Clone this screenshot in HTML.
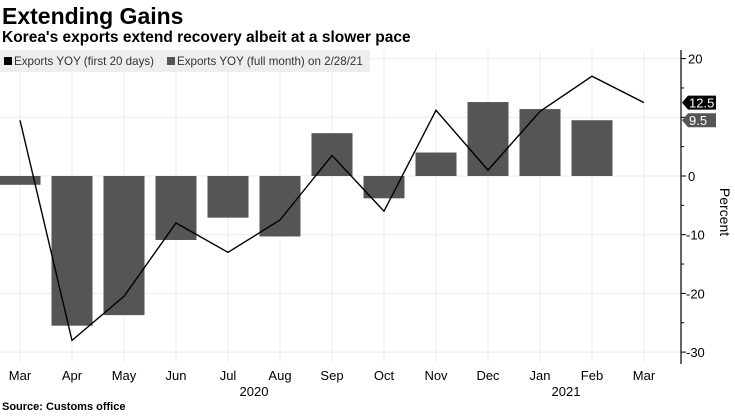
<!DOCTYPE html>
<html><head><meta charset="utf-8"><style>
body{margin:0;width:735px;height:413px;background:#fff;overflow:hidden;font-family:"Liberation Sans","DejaVu Sans",sans-serif}
</style></head><body>
<svg id="c" width="735" height="413" xmlns="http://www.w3.org/2000/svg">
<text x="2" y="24" font-size="23" font-weight="bold" fill="#000">Extending Gains</text>
<text x="2" y="42" font-size="15.5" font-weight="bold" fill="#000">Korea's exports extend recovery albeit at a slower pace</text>
<g id="grid"></g>
<g id="bars"></g>
<g id="line"></g>
<rect x="0" y="50" width="370" height="22" fill="#eeeeee"/>
<rect x="4" y="57" width="8" height="8" fill="#000"/>
<text x="14" y="65" font-size="11.6" fill="#333">Exports YOY (first 20 days)</text>
<rect x="167" y="57" width="8" height="8" fill="#555"/>
<text x="177" y="65" font-size="11.6" fill="#333">Exports YOY (full month) on 2/28/21</text>
<g id="axis"></g>
<text transform="translate(720,212) rotate(90)" font-size="14" fill="#000" text-anchor="middle">Percent</text>
<text x="2" y="410" font-size="11" font-weight="bold" fill="#000">Source: Customs office</text>
</svg>
<script>
const months=["Mar","Apr","May","Jun","Jul","Aug","Sep","Oct","Nov","Dec","Jan","Feb","Mar"];
const fullMonth=[-1.5,-25.5,-23.7,-10.9,-7.1,-10.3,7.3,-3.8,4.0,12.6,11.4,9.5];
const first20=[9.5,-28,-20.5,-8,-13,-7.5,3.5,-6,11.2,1,11,17,12.5];
const yTicks=[20,0,-10,-20,-30];
const yearLabels=[{t:"2020",i:4.5},{t:"2021",i:10.5}];
const NS="http://www.w3.org/2000/svg";
const X=i=>20+i*52;
const Y=v=>176-v*5.87;
function mk(tag,attrs,parent,text){const e=document.createElementNS(NS,tag);for(const k in attrs)e.setAttribute(k,attrs[k]);if(text!=null)e.textContent=text;document.getElementById(parent).appendChild(e);return e;}
for(let i=0;i<months.length;i++){
 const g=mk('line',{x1:X(i),x2:X(i),y1:50,y2:362,stroke:'#ececec','stroke-width':1},'grid');
 
 
}
for(let v=20;v>=-30;v-=10){
 const g=mk('line',{x1:0,x2:680,y1:Y(v),y2:Y(v),stroke:'#ececec','stroke-width':1},'grid');
 
 
}
fullMonth.forEach((v,i)=>{
 const y0=Y(0),y1=Y(v);
 const r=mk('rect',{x:X(i)-20.5,width:41,y:Math.min(y0,y1),height:Math.abs(y1-y0),fill:'#555555'},'bars');
 
 
});
const p=mk('polyline',{points:first20.map((v,i)=>X(i)+','+Y(v)).join(' '),fill:'none',stroke:'#000','stroke-width':1.4},'line');


const ax=mk('line',{x1:681,x2:681,y1:50,y2:364,stroke:'#000','stroke-width':1.2},'axis');


for(let v=20;v>=-30;v-=5){
 const t=mk('line',{x1:681,x2:v%10===0?686:684,y1:Y(v),y2:Y(v),stroke:'#000'},'axis');
 
 
}
yTicks.forEach(v=>{
 const t=mk('text',{x:v<0?686:688,y:Y(v)+5,'font-size':13,fill:'#000'},'axis',String(v));
 
 
});
months.forEach((m,i)=>{
 const t=mk('text',{x:X(i),y:380,'font-size':13,fill:'#000','text-anchor':'middle'},'axis',m);
 
 
});
yearLabels.forEach(o=>{
 const t=mk('text',{x:X(o.i),y:396,'font-size':13,fill:'#000','text-anchor':'middle'},'axis',o.t);
 
 
});
function tag(v,fill,name){
 const y=Y(v);
 const g=mk('path',{d:`M682 ${y} L688 ${y-7} L716 ${y-7} L716 ${y+7} L688 ${y+7} Z`,fill:fill},'axis');
 
 
 const t=mk('text',{x:689,y:y+5,'font-size':13,fill:'#fff'},'axis',String(v));
 
 
}
tag(first20[first20.length-1],'#000','first-20-days-last-value');
tag(fullMonth[fullMonth.length-1],'#555','full-month-last-value');
</script>
</body></html>
